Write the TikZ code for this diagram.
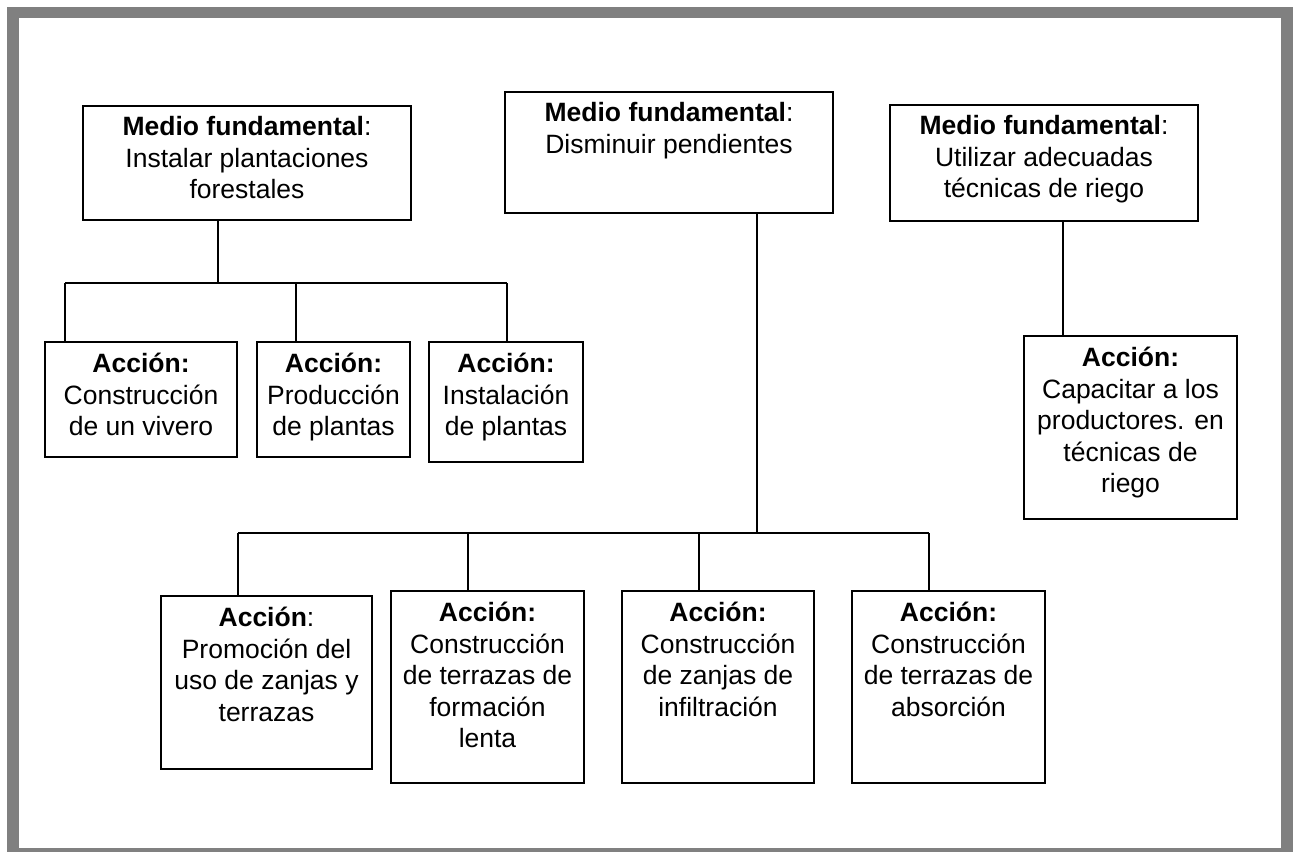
\documentclass[tikz,border=0pt]{standalone}
\usepackage{fontspec}
\setmainfont{Liberation Sans}
\definecolor{framegray}{HTML}{808080}
% \mkbox[options]{name}{left}{top}{right}{bottom}{text drop}{text}
\newcommand\mkbox[8][]{%
  \node[boxframe,#1,minimum width={(#5-#3)*0.5pt},minimum height={(#6-#4)*0.5pt}]
    (#2) at ({(#3+#5)/2},{(#4+#6)/2}) {};
  \node[boxtext] (#2-t) at ([yshift=-#7]#2.north) {#8};}
\begin{document}
\begin{tikzpicture}[x=0.5pt,y=-0.5pt,
  boxframe/.style={draw, line width=0.9pt, inner sep=0pt, rectangle},
  boxtext/.style={anchor=north, align=center, inner sep=0pt,
    font=\fontsize{13.25pt}{15.75pt}\selectfont},
  link/.style={line width=0.75pt}]
\useasboundingbox (0,0) rectangle (1295,852);
% grey outer frame
\fill[framegray] (7,7) rectangle (1293,852);
\fill[white] (19,18) rectangle (1281,848);

% main means
\mkbox{A}{83}{106}{411}{220}{5.6pt}{\textbf{Medio fundamental}:\\Instalar plantaciones\\forestales}
\mkbox[line width=1.3pt]{B}{505}{92}{833}{213}{5.6pt}{\textbf{Medio fundamental}:\\Disminuir pendientes}
\mkbox{C}{890}{105}{1198}{221}{5.6pt}{\textbf{Medio fundamental}:\\Utilizar adecuadas\\técnicas de riego}

% actions under A
\mkbox{a1}{45}{342}{237}{457}{6pt}{\textbf{Acción:}\\Construcción\\de un vivero}
\mkbox{a2}{257}{342}{410}{457}{6pt}{\textbf{Acción:}\\Producción\\de plantas}
\mkbox{a3}{429}{342}{583}{462}{6pt}{\textbf{Acción:}\\Instalación\\de plantas}

% action under C
\mkbox{c1}{1024}{336}{1237}{519}{6pt}{\textbf{Acción:}\\Capacitar a los\\productores. en\\técnicas de\\riego}

% actions under B
\mkbox{b1}{161}{596}{372}{769}{6pt}{\textbf{Acción}:\\Promoción del\\uso de zanjas y\\terrazas}
\mkbox{b2}{391}{591}{584}{783}{6pt}{\textbf{Acción:}\\Construcción\\de terrazas de\\formación\\lenta}
\mkbox{b3}{622}{591}{814}{783}{6pt}{\textbf{Acción:}\\Construcción\\de zanjas de\\infiltración}
\mkbox{b4}{852}{591}{1045}{783}{6pt}{\textbf{Acción:}\\Construcción\\de terrazas de\\absorción}

% branch points
\coordinate (jA) at (218,283);
\coordinate (jA1) at (65,283);
\coordinate (jA2) at (296,283);
\coordinate (jA3) at (507,283);
\coordinate (jB) at (757,533);
\coordinate (jB1) at (238,533);
\coordinate (jB2) at (468,533);
\coordinate (jB3) at (699,533);
\coordinate (jB4) at (929,533);
\coordinate (jC) at (1063,280);

% connectors of A
\draw[link] (A.south -| jA) -- (jA);
\draw[link] (jA1) -- (jA3);
\draw[link] (jA1) -- (jA1 |- a1.north);
\draw[link] (jA2) -- (jA2 |- a2.north);
\draw[link] (jA3) -- (jA3 |- a3.north);

% connectors of B
\draw[link] (B.south -| jB) -- (jB);
\draw[link] (jB1) -- (jB4);
\draw[link] (jB1) -- (jB1 |- b1.north);
\draw[link] (jB2) -- (jB2 |- b2.north);
\draw[link] (jB3) -- (jB3 |- b3.north);
\draw[link] (jB4) -- (jB4 |- b4.north);

% connector of C
\draw[link] (C.south -| jC) -- (jC |- c1.north);
\end{tikzpicture}
\end{document}
